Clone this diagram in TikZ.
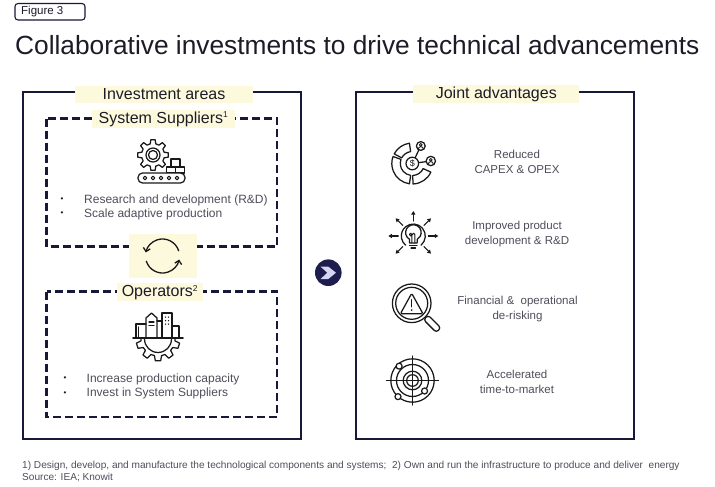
\documentclass[tikz,border=0pt]{standalone}
\usepackage{fontspec}
\setmainfont{Liberation Sans}
\usetikzlibrary{arrows.meta}
\definecolor{navy}{RGB}{24,24,56}
\definecolor{beige}{RGB}{253,249,221}
\definecolor{txtgray}{RGB}{78,78,92}
\definecolor{titlecol}{RGB}{28,28,40}
\definecolor{iconcol}{RGB}{25,25,25}
\definecolor{chev}{RGB}{214,214,242}
\definecolor{btnnavy}{RGB}{30,30,78}
\newcommand\ringseg[4]{\draw[icon] (#1:#3) arc[start angle=#1,end angle=#2,radius=#3] -- (#2:#4) arc[start angle=#2,end angle=#1,radius=#4] -- cycle;}
\newcommand\mysup[1]{\raisebox{5.2pt}{\fontsize{8.5}{9}\selectfont #1}}
\begin{document}
\begin{tikzpicture}[x=1pt,y=-1pt,
  frame/.style={draw=navy, line width=2.8pt},
  dashbox/.style={draw=navy, line width=2.4pt, dash pattern=on 8pt off 4pt},
  lbl/.style={fill=beige, inner sep=0pt, font=\fontsize{16}{18}\selectfont, text=titlecol},
  bullettxt/.style={anchor=west, inner sep=0pt, font=\fontsize{12}{14}\selectfont, text=txtgray},
  bulletdot/.style={inner sep=0pt, font=\fontsize{8}{8}\selectfont, text=titlecol},
  advtxt/.style={align=center, font=\fontsize{11.5}{15}\selectfont, text=txtgray, inner sep=0pt},
  foot/.style={anchor=west, inner sep=0pt, font=\fontsize{10.1}{11}\selectfont, text=txtgray},
  icon/.style={draw=iconcol, line width=1.25pt, line join=round, line cap=round},
]
\useasboundingbox[fill=white] (0,0) rectangle (715,487);

% header
\draw[draw=navy, line width=1.1pt, rounded corners=3pt] (15,3.5) rectangle (85,20);
\node[anchor=west, inner sep=0pt, font=\fontsize{11.5}{12}\selectfont, text=titlecol] (fig) at (21,12) {Figure 3};
\node[anchor=west, inner sep=0pt, font=\fontsize{26.3}{28}\selectfont, text=titlecol] (title) at (15,45) {Collaborative investments to drive technical advancements};

% frames
\draw[frame] (23,92) rectangle (301,439);
\draw[frame] (356,92) rectangle (634,439);
\draw[dashbox] (46.5,118.5) rectangle (277,246.5);
\draw[dashbox] (46.5,291.5) rectangle (277,417);

% labels
\node[lbl, minimum width=178pt, minimum height=17.5pt] (inv) at (164,94.5) {Investment areas};
\node[lbl, minimum width=143pt, minimum height=18pt] (sys) at (163.3,119) {System Suppliers\mysup{1}};
\node[lbl, minimum width=86pt, minimum height=18pt] (ops) at (159.7,292.3) {Operators\mysup{2}};
\node[lbl, minimum width=166pt, minimum height=18pt] (joint) at (496.3,94.2) {Joint advantages};
\node[fill=beige, minimum width=68pt, minimum height=44pt, inner sep=0pt] (cyc) at (163,256) {};

% supplier icon
\begin{scope}[shift={(153,155)}]
\draw[icon] ({-14}:11.5) foreach \i in {0,...,7} { -- ({\i*45-14}:11.5) -- ({\i*45-8}:15.5) -- ({\i*45+8}:15.5) -- ({\i*45+14}:11.5) } -- cycle;
\draw[icon] (0,0) circle (7);
\draw[icon] (0,0) circle (4.5);
\end{scope}
\draw[icon, fill=white] (171,159) rectangle (180,167);
\draw[icon, fill=white] (166.5,167) rectangle (175.5,173);
\draw[icon, fill=white] (175.5,167) rectangle (184.5,173);
\draw[icon, fill=white, rounded corners=4.5pt] (138,173) rectangle (185,183);
\foreach \x in {145,153,161,169,177} \draw[icon, line width=1pt] (\x,178) circle (1.8);

% supplier bullets
\node[bulletdot] (d1) at (62,200) {\textbullet};
\node[bullettxt] (b1) at (84,200) {Research and development (R\&D)};
\node[bulletdot] (d2) at (62,214) {\textbullet};
\node[bullettxt] (b2) at (84,214) {Scale adaptive production};

% cycle icon
\begin{scope}[shift={(162.5,256)}, yscale=-1]
\draw[icon, line width=1.3pt, -{Straight Barb[length=3.5pt,width=7pt]}] (18:17) arc[start angle=18, end angle=168, radius=17];
\draw[icon, line width=1.3pt, -{Straight Barb[length=3.5pt,width=7pt]}] (198:17) arc[start angle=198, end angle=348, radius=17];
\end{scope}

% operators icon
\draw[icon] (136,338) -- (136,324) -- (146,324);
\draw[icon] (138.5,338) -- (138.5,327);
\draw[icon] (146,338) -- (146,318) -- (151.5,313) -- (157,318) -- (157,338);
\draw[icon] (149,322) -- (154,322);
\draw[icon] (149,325.5) -- (154,325.5);
\draw[icon] (157,321) -- (162,321);
\draw[icon] (162,338) -- (162,313) -- (172,313) -- (172,338);
\foreach \xx in {165.5,168.5} \foreach \yy in {317,320.5,324} \fill[iconcol] (\xx,\yy) circle (0.75);
\draw[icon] (172,326) -- (179,326) -- (179,338);
\draw[icon, line width=1.7pt] (133,338) -- (183,338);
\begin{scope}[shift={(158,339)}]
\draw[icon] (0:17) foreach \a in {18,54,90,126,162} { -- ({\a-12}:17) -- ({\a-7}:22) -- ({\a+7}:22) -- ({\a+12}:17) } -- (180:17);
\draw[icon] (13.5,0) arc[start angle=0, end angle=180, radius=13.5];
\end{scope}

% operators bullets
\node[bulletdot] (d3) at (65,379) {\textbullet};
\node[bullettxt] (b3) at (86.5,379) {Increase production capacity};
\node[bulletdot] (d4) at (65,393.3) {\textbullet};
\node[bullettxt] (b4) at (86.5,393.3) {Invest in System Suppliers};

% arrow button
\fill[btnnavy] (328.3,272.7) circle (13.3);
\fill[chev] (320.6,266.7) -- (328.3,266.7) -- (336,272.7) -- (328.3,279) -- (320.6,279) -- (327.3,272.7) -- cycle;

% advantage 1 icon
\begin{scope}[shift={(412.3,163.5)}, yscale=-1]
\ringseg{98}{152}{12}{20.5}
\ringseg{160}{262}{12}{20.5}
\ringseg{272}{335}{12}{20.5}
\draw[icon] (0,0) circle (6.3);
\node[inner sep=0pt, font=\fontsize{9}{9}\selectfont, text=iconcol] (dol) at (0,0) {\$};
\draw[icon] (64:6.3) -- (64:15.2);
\draw[icon] (7.7:6.3) -- (7.7:14);
\draw[icon] (8.5,17.5) circle (4.4);
\draw[icon, line width=0.9pt] (8.5,18.6) circle (1.4);
\draw[icon, line width=0.9pt] (6,14.4) arc[start angle=180, end angle=0, radius=2.5];
\draw[icon] (18.5,2.5) circle (4.7);
\draw[icon, line width=0.9pt] (18.5,3.6) circle (1.4);
\draw[icon, line width=0.9pt] (16,-0.6) arc[start angle=180, end angle=0, radius=2.5];
\end{scope}
\node[advtxt] (a1) at (517,161.7) {Reduced\\CAPEX \& OPEX};

% advantage 2 icon
\begin{scope}[shift={(413.3,236)}, yscale=-1]
\draw[icon] (-3.8,-7) -- (-3.8,-3.3) arc[start angle=240, end angle=-60, radius=7.8] -- (3.8,-7) -- cycle;
\draw[icon] (-3.8,-9.5) -- (3.8,-9.5);
\draw[icon] (-2.2,-12) -- (2.2,-12);
\draw[icon, line width=1pt] (-1.5,-7) -- (-1.5,1.5) arc[start angle=0, end angle=180, radius=1.2] arc[start angle=180, end angle=360, radius=1.5] arc[start angle=180, end angle=0, radius=1.2] -- (1.5,-7);
\draw[icon] (-50:12) arc[start angle=-50, end angle=230, radius=12];
\foreach \ang in {0,45,90,135,180,225,315}
  \draw[icon, line width=1.1pt, -{Triangle[length=3.5pt,width=4pt]}] (\ang:15) -- (\ang:25);
\end{scope}
\node[advtxt] (a2) at (517,234.2) {Improved product\\development \& R\&D};

% advantage 3 icon
\begin{scope}[shift={(411.7,303.3)}, yscale=-1]
\draw[icon, rotate=45, rounded corners=2.8pt, fill=white] (20,-3.2) rectangle (38,3.2);
\draw[icon, fill=white] (0,0) circle (19.3);
\draw[icon] (0,0) circle (16);
\draw[icon, rounded corners=1.5pt] (0,10) -- (-11.3,-10.5) -- (11.3,-10.5) -- cycle;
\draw[icon, line width=1.3pt] (0,3.5) -- (0,-3.5);
\fill[iconcol] (0,-6.8) circle (0.9);
\end{scope}
\node[advtxt] (a3) at (517.5,309.2) {Financial \&\ \ operational\\de-risking};

% advantage 4 icon
\begin{scope}[shift={(412.5,380.5)}, yscale=-1]
\draw[icon] (-26,0) -- (26,0);
\draw[icon] (0,-24.5) -- (0,24.5);
\draw[icon] (0,0) circle (21.7);
\draw[icon] (0,0) circle (16);
\draw[icon] (0,0) circle (9.3);
\draw[icon] (0,0) circle (5.8);
\draw[icon, fill=white] (133:19.6) circle (3);
\draw[icon, fill=white] (-41:16) circle (3);
\draw[icon, fill=white] (-132:21.7) circle (3);
\end{scope}
\node[advtxt] (a4) at (517,382.2) {Accelerated\\time-to-market};

% footnotes
\node[foot] (f1) at (22,466) {1) Design, develop, and manufacture the technological components and systems;\ \ 2) Own and run the infrastructure to produce and deliver\ \ energy};
\node[foot] (f2) at (22,477.5) {Source: IEA; Knowit};
\end{tikzpicture}
\end{document}
